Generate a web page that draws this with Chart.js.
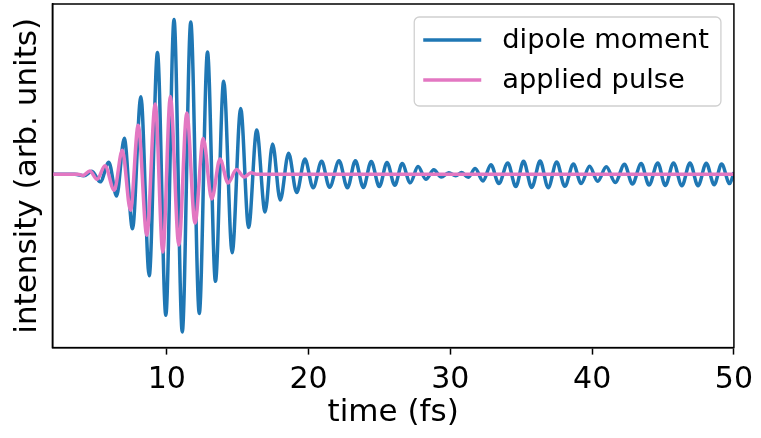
<!DOCTYPE html>
<html>
  <head>
    <title>Dipole response</title>
    <script src="https://cdn.jsdelivr.net/npm/chart.js@4.4.0/dist/chart.umd.min.js"></script>
    <style>
      body { margin: 0; background: #ffffff; }
      #wrap { width: 761px; height: 438px; }
    </style>
  </head>
  <body>
    <div id="wrap"><canvas id="pulseChart" width="761" height="438"></canvas></div>
    <script>
      // turning points (time in fs, intensity in arb. units)
      var dipoleTime = [1.93, 3.52, 4.15, 4.71, 5.31, 5.91, 6.46, 7.00, 7.58, 8.17, 8.76, 9.34, 9.93,
        10.51, 11.09, 11.69, 12.29, 12.87, 13.43, 14.01, 14.61, 15.21, 15.77, 16.34, 16.93, 17.46,
        18.00, 18.59, 19.16, 19.74, 20.32, 20.92, 21.48, 22.15, 22.74, 23.30, 23.86, 24.42, 24.99,
        25.53, 26.08, 26.60, 27.17, 27.72, 28.27, 28.83, 29.36, 29.89, 30.38, 30.80, 31.26, 31.75,
        32.30, 32.86, 33.42, 34.05, 34.62, 35.16, 35.74, 36.33, 36.90, 37.50, 38.07, 38.68, 39.22,
        39.82, 40.39, 41.00, 41.63, 42.28, 42.84, 43.46, 44.01, 44.63, 45.16, 45.74, 46.33, 46.90,
        47.47, 48.05, 48.61, 49.13, 49.70, 50.0];
      var dipoleValue = [0, 0, -0.015, 0.03, -0.075, 0.12, -0.218, 0.36, -0.545, 0.775, -1.015, 1.217, -1.41,
        1.547, -1.577, 1.523, -1.392, 1.223, -1.07, 0.93, -0.785, 0.657, -0.532, 0.443, -0.377, 0.303,
        -0.257, 0.21, -0.183, 0.152, -0.135, 0.13, -0.13, 0.135, -0.135, 0.135, -0.132, 0.128, -0.123,
        0.118, -0.11, 0.107, -0.085, 0.077, -0.05, 0.045, -0.027, 0.015, -0.015, 0.017, -0.03, 0.057,
        -0.067, 0.095, -0.093, 0.113, -0.123, 0.13, -0.132, 0.132, -0.135, 0.123, -0.12, 0.103, -0.093,
        0.08, -0.07, 0.075, -0.082, 0.1, -0.097, 0.107, -0.107, 0.113, -0.113, 0.113, -0.115, 0.113,
        -0.115, 0.11, -0.105, 0.103, -0.093, 0.02];

      var pulseTime = [1.93, 3.73, 4.08, 4.57, 5.08, 5.64, 6.29, 6.86, 7.44, 7.98, 8.59, 9.18, 9.72,
        10.25, 10.85, 11.41, 11.99, 12.57, 13.17, 13.75, 14.32, 14.91, 15.45, 15.94, 16.39, 50.0];
      var pulseValue = [0, 0, -0.013, 0.032, -0.05, 0.085, -0.16, 0.24, -0.36, 0.49, -0.61, 0.703, -0.777,
        0.777, -0.707, 0.612, -0.487, 0.357, -0.247, 0.153, -0.087, 0.047, -0.027, 0.015, 0, 0];

      var xTicks = [10, 20, 30, 40, 50];

      function toPoints(ts, vs) {
        return ts.map(function (t, i) { return { x: t, y: vs[i] }; });
      }

      var fontFamily = "'DejaVu Sans', sans-serif";

      // frame round the plot area
      var framePlugin = {
        id: 'frame',
        afterDraw: function (chart) {
          var a = chart.chartArea, ctx = chart.ctx;
          ctx.save();
          ctx.strokeStyle = '#000000';
          ctx.lineWidth = 1.5;
          ctx.strokeRect(a.left, a.top, a.right - a.left, a.bottom - a.top);
          ctx.restore();
        }
      };

      // matplotlib-like legend box in the upper right corner
      var legendBox = {
        id: 'legendBox',
        afterDraw: function (chart) {
          var a = chart.chartArea, ctx = chart.ctx;
          var sets = chart.data.datasets;
          ctx.save();
          ctx.font = '27.3px ' + fontFamily;
          var textW = 0;
          sets.forEach(function (d) { textW = Math.max(textW, ctx.measureText(d.label).width); });
          var padL = 9, handle = 58, gap = 21, padR = 12, rowH = 40;
          var w = padL + handle + gap + textW + padR;
          var h = 89;
          var right = a.right - 13, top = a.top + 13, left = right - w;
          ctx.beginPath();
          ctx.roundRect(left, top, w, h, 5);
          ctx.fillStyle = 'rgba(255,255,255,0.8)';
          ctx.fill();
          ctx.strokeStyle = '#d0d0d0';
          ctx.lineWidth = 1.3;
          ctx.stroke();
          sets.forEach(function (d, i) {
            var y = top + 23 + i * rowH;
            ctx.beginPath();
            ctx.moveTo(left + padL, y);
            ctx.lineTo(left + padL + handle, y);
            ctx.strokeStyle = d.borderColor;
            ctx.lineWidth = 3.5;
            ctx.stroke();
            ctx.fillStyle = '#000000';
            ctx.textBaseline = 'middle';
            ctx.fillText(d.label, left + padL + handle + gap, y + 1);
          });
          ctx.restore();
        }
      };

      var ctx = document.getElementById('pulseChart').getContext('2d');
      var pulseChart = new Chart(ctx, {
        type: 'line',
        data: {
          datasets: [
            {
              label: 'dipole moment',
              data: toPoints(dipoleTime, dipoleValue),
              borderColor: '#1f77b4',
              borderWidth: 3.5,
              pointRadius: 0,
              cubicInterpolationMode: 'monotone',
              fill: false,
              order: 2
            },
            {
              label: 'applied pulse',
              data: toPoints(pulseTime, pulseValue),
              borderColor: '#e377c2',
              borderWidth: 3.5,
              pointRadius: 0,
              cubicInterpolationMode: 'monotone',
              fill: false,
              order: 1
            }
          ]
        },
        options: {
          responsive: false,
          animation: false,
          layout: { padding: { top: 4, right: 24, left: 0, bottom: 0 } },
          plugins: {
            legend: { display: false },
            tooltip: { enabled: false }
          },
          scales: {
            x: {
              type: 'linear',
              min: 1.93,
              max: 50,
              afterBuildTicks: function (scale) {
                scale.ticks = xTicks.map(function (v) { return { value: v }; });
              },
              afterFit: function (scale) { scale.height = 90.4; },
              grid: { drawOnChartArea: false, drawTicks: true, tickLength: 7, tickWidth: 1.5, tickColor: '#000000' },
              border: { display: true, color: '#000000', width: 1.5 },
              ticks: {
                color: '#000000',
                padding: 8,
                maxRotation: 0,
                font: { family: fontFamily, size: 30 }
              },
              title: {
                display: true,
                text: 'time (fs)',
                color: '#000000',
                padding: { top: 0, bottom: 6 },
                font: { family: fontFamily, size: 31 }
              }
            },
            y: {
              min: -1.733,
              max: 1.703,
              afterFit: function (scale) { scale.width = 52.4; },
              grid: { display: false },
              border: { display: true, color: '#000000', width: 1.5 },
              ticks: { display: false },
              title: {
                display: true,
                text: 'intensity (arb. units)',
                color: '#000000',
                padding: { top: 9, bottom: 0 },
                font: { family: fontFamily, size: 31 }
              }
            }
          }
        },
        plugins: [framePlugin, legendBox]
      });
    </script>
  </body>
</html>
